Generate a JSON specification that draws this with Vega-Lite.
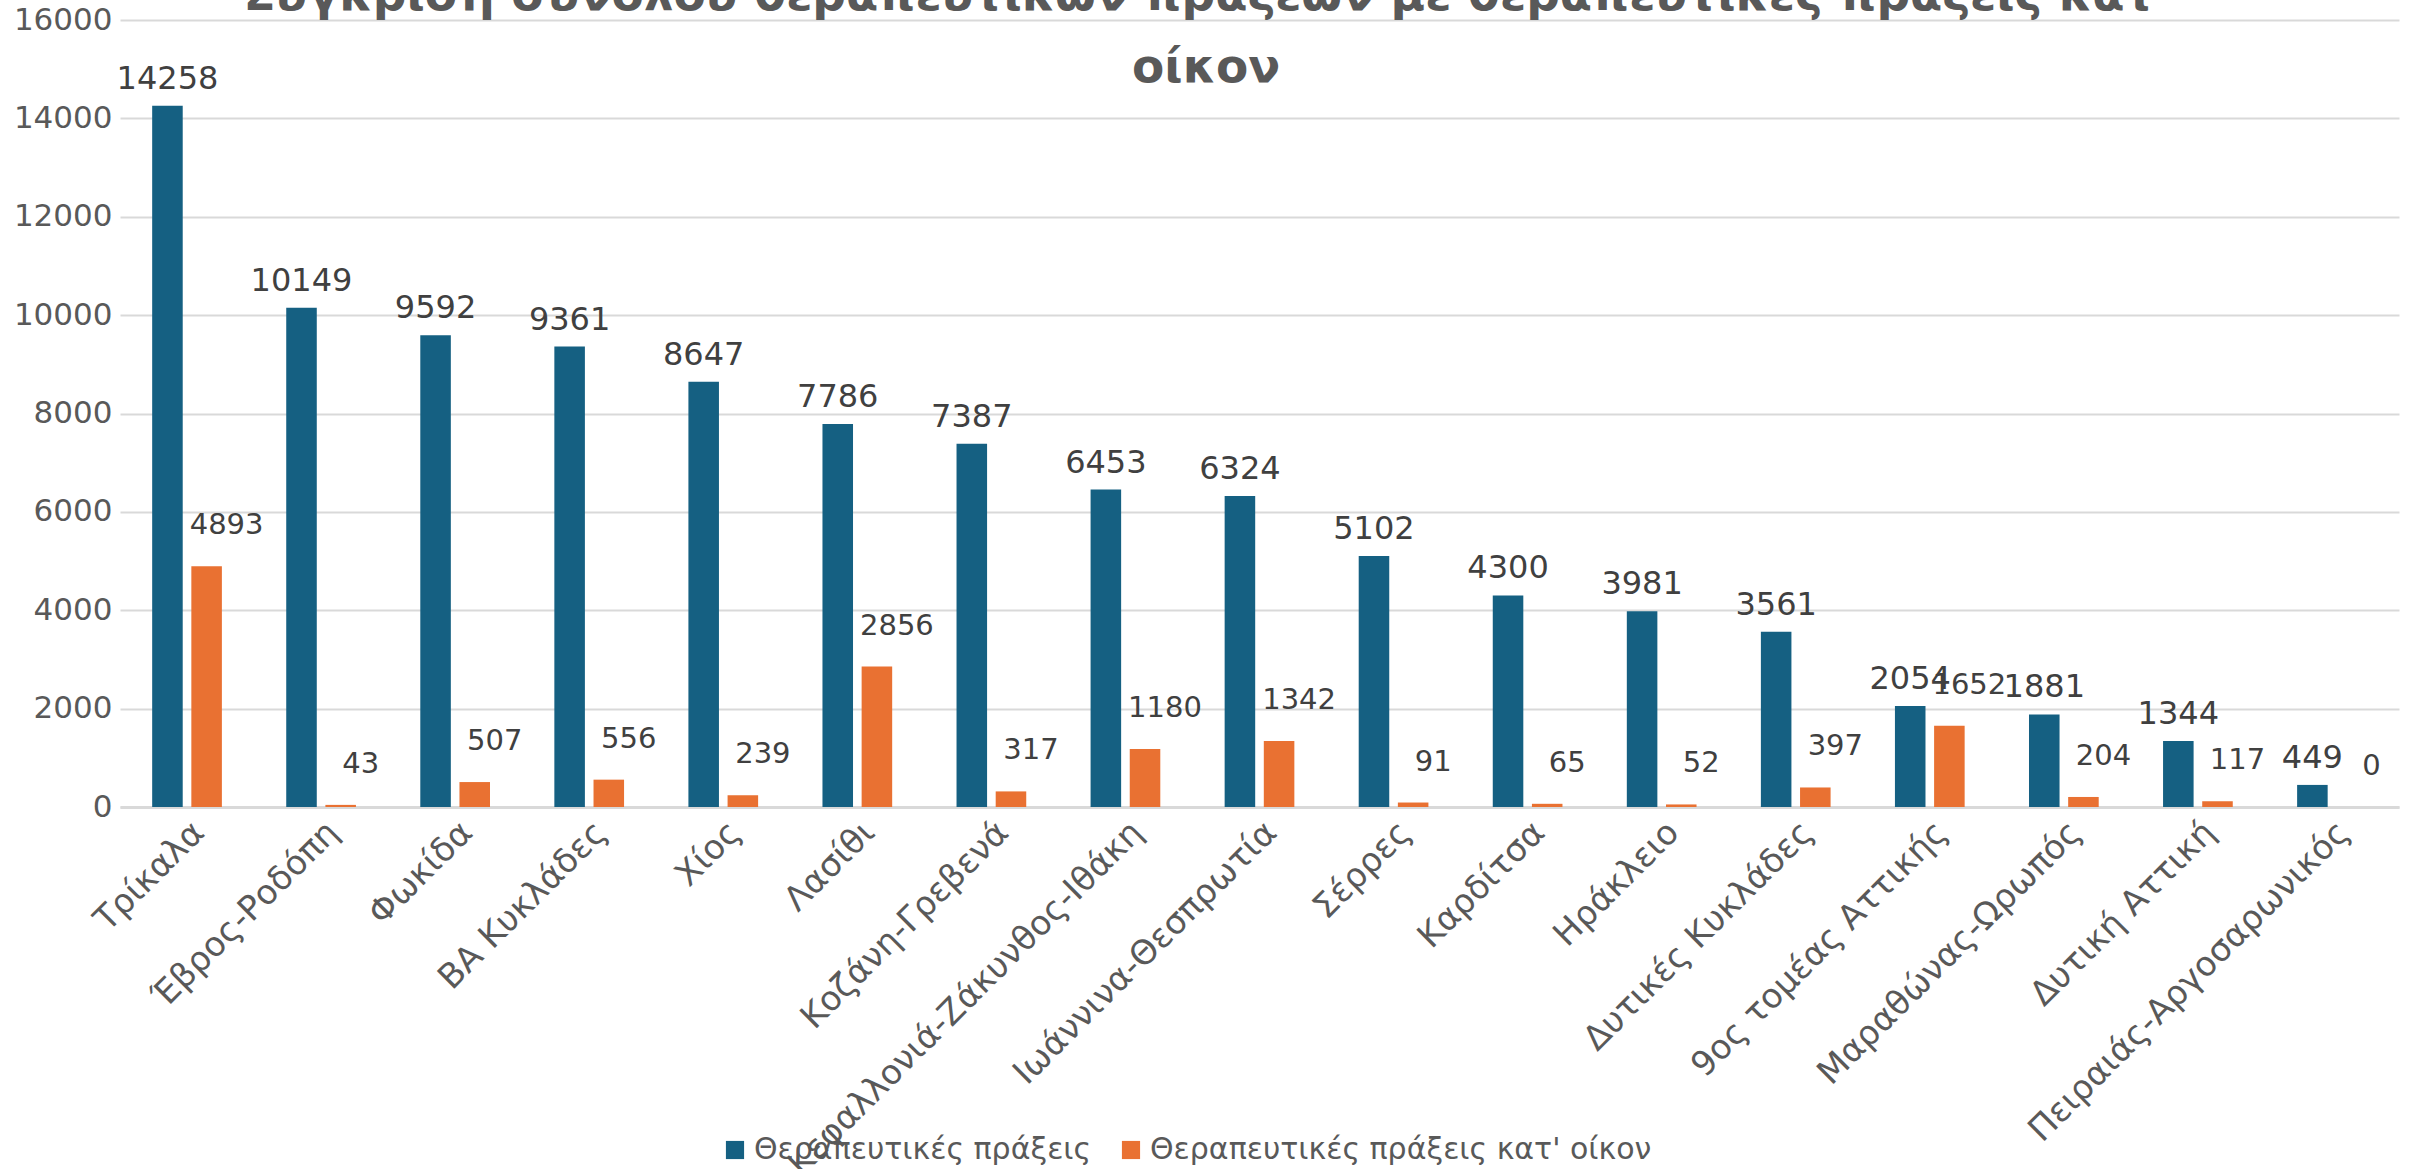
{
  "$schema": "https://vega.github.io/schema/vega-lite/v6.json",
  "autosize": {"type": "none"},
  "width": 2279,
  "height": 787,
  "padding": {"left": 120, "top": 20, "right": 17, "bottom": 362},
  "background": "white",
  "title": {
    "text": ["Σύγκριση συνόλου θεραπευτικών πράξεων με θεραπευτικές πράξεις κατ'", "οίκον"],
    "font": "DejaVu Sans",
    "fontSize": 47,
    "fontWeight": "bold",
    "color": "#595959",
    "lineHeight": 72,
    "anchor": "middle",
    "frame": "bounds",
    "offset": -88
  },
  "config": {
    "view": {"stroke": null},
    "font": "DejaVu Sans"
  },
  "data": {
    "values": [
      {"region": "Τρίκαλα", "series": "Θεραπευτικές πράξεις", "value": 14258},
      {"region": "Τρίκαλα", "series": "Θεραπευτικές πράξεις κατ' οίκον", "value": 4893},
      {"region": "Έβρος-Ροδόπη", "series": "Θεραπευτικές πράξεις", "value": 10149},
      {"region": "Έβρος-Ροδόπη", "series": "Θεραπευτικές πράξεις κατ' οίκον", "value": 43},
      {"region": "Φωκίδα", "series": "Θεραπευτικές πράξεις", "value": 9592},
      {"region": "Φωκίδα", "series": "Θεραπευτικές πράξεις κατ' οίκον", "value": 507},
      {"region": "ΒΑ Κυκλάδες", "series": "Θεραπευτικές πράξεις", "value": 9361},
      {"region": "ΒΑ Κυκλάδες", "series": "Θεραπευτικές πράξεις κατ' οίκον", "value": 556},
      {"region": "Χίος", "series": "Θεραπευτικές πράξεις", "value": 8647},
      {"region": "Χίος", "series": "Θεραπευτικές πράξεις κατ' οίκον", "value": 239},
      {"region": "Λασίθι", "series": "Θεραπευτικές πράξεις", "value": 7786},
      {"region": "Λασίθι", "series": "Θεραπευτικές πράξεις κατ' οίκον", "value": 2856},
      {"region": "Κοζάνη-Γρεβενά", "series": "Θεραπευτικές πράξεις", "value": 7387},
      {"region": "Κοζάνη-Γρεβενά", "series": "Θεραπευτικές πράξεις κατ' οίκον", "value": 317},
      {"region": "Κεφαλλονιά-Ζάκυνθος-Ιθάκη", "series": "Θεραπευτικές πράξεις", "value": 6453},
      {"region": "Κεφαλλονιά-Ζάκυνθος-Ιθάκη", "series": "Θεραπευτικές πράξεις κατ' οίκον", "value": 1180},
      {"region": "Ιωάννινα-Θεσπρωτία", "series": "Θεραπευτικές πράξεις", "value": 6324},
      {"region": "Ιωάννινα-Θεσπρωτία", "series": "Θεραπευτικές πράξεις κατ' οίκον", "value": 1342},
      {"region": "Σέρρες", "series": "Θεραπευτικές πράξεις", "value": 5102},
      {"region": "Σέρρες", "series": "Θεραπευτικές πράξεις κατ' οίκον", "value": 91},
      {"region": "Καρδίτσα", "series": "Θεραπευτικές πράξεις", "value": 4300},
      {"region": "Καρδίτσα", "series": "Θεραπευτικές πράξεις κατ' οίκον", "value": 65},
      {"region": "Ηράκλειο", "series": "Θεραπευτικές πράξεις", "value": 3981},
      {"region": "Ηράκλειο", "series": "Θεραπευτικές πράξεις κατ' οίκον", "value": 52},
      {"region": "Δυτικές Κυκλάδες", "series": "Θεραπευτικές πράξεις", "value": 3561},
      {"region": "Δυτικές Κυκλάδες", "series": "Θεραπευτικές πράξεις κατ' οίκον", "value": 397},
      {"region": "9ος τομέας Αττικής", "series": "Θεραπευτικές πράξεις", "value": 2054},
      {"region": "9ος τομέας Αττικής", "series": "Θεραπευτικές πράξεις κατ' οίκον", "value": 1652},
      {"region": "Μαραθώνας-Ωρωπός", "series": "Θεραπευτικές πράξεις", "value": 1881},
      {"region": "Μαραθώνας-Ωρωπός", "series": "Θεραπευτικές πράξεις κατ' οίκον", "value": 204},
      {"region": "Δυτική Αττική", "series": "Θεραπευτικές πράξεις", "value": 1344},
      {"region": "Δυτική Αττική", "series": "Θεραπευτικές πράξεις κατ' οίκον", "value": 117},
      {"region": "Πειραιάς-Αργοσαρωνικός", "series": "Θεραπευτικές πράξεις", "value": 449},
      {"region": "Πειραιάς-Αργοσαρωνικός", "series": "Θεραπευτικές πράξεις κατ' οίκον", "value": 0}
    ]
  },
  "encoding": {
    "x": {
      "field": "region",
      "type": "nominal",
      "sort": null,
      "scale": {"paddingInner": 0.48, "paddingOuter": 0.24},
      "axis": {
        "title": null,
        "labelAngle": -45,
        "labelFontSize": 34,
        "labelColor": "#595959",
        "labelPadding": 8,
        "ticks": false,
        "domain": true,
        "domainColor": "#D9D9D9",
        "domainWidth": 3,
        "labelLimit": 800
      }
    },
    "xOffset": {
      "field": "series",
      "type": "nominal",
      "scale": {"paddingInner": 0.22}
    },
    "y": {
      "field": "value",
      "type": "quantitative",
      "scale": {"domain": [0, 16000], "nice": false},
      "axis": {
        "title": null,
        "values": [0, 2000, 4000, 6000, 8000, 10000, 12000, 14000, 16000],
        "labelFontSize": 31,
        "labelColor": "#595959",
        "labelPadding": 8,
        "ticks": false,
        "domain": false,
        "gridColor": "#D9D9D9",
        "gridWidth": 2,
        "format": "d"
      }
    }
  },
  "layer": [
    {
      "mark": {"type": "bar"},
      "encoding": {
        "color": {
          "field": "series",
          "type": "nominal",
          "scale": {"range": ["#156082", "#E97132"]},
          "legend": {
            "title": null,
            "orient": "none",
            "direction": "horizontal",
            "legendX": 600,
            "legendY": 1115,
            "symbolType": "square",
            "symbolSize": 330,
            "symbolStrokeWidth": 0,
            "labelFontSize": 30,
            "labelColor": "#595959",
            "labelLimit": 800,
            "columnPadding": 24,
            "symbolOffset": 0
          }
        }
      }
    },
    {
      "transform": [{"filter": "datum.series === 'Θεραπευτικές πράξεις'"}],
      "mark": {"type": "text", "baseline": "bottom", "dy": -10, "fontSize": 32, "color": "#404040"},
      "encoding": {"text": {"field": "value", "type": "quantitative", "format": "d"}}
    },
    {
      "transform": [{"filter": "datum.series !== 'Θεραπευτικές πράξεις'"}],
      "mark": {"type": "text", "baseline": "bottom", "dy": -26, "dx": 20, "fontSize": 29, "color": "#404040"},
      "encoding": {"text": {"field": "value", "type": "quantitative", "format": "d"}}
    }
  ]
}
